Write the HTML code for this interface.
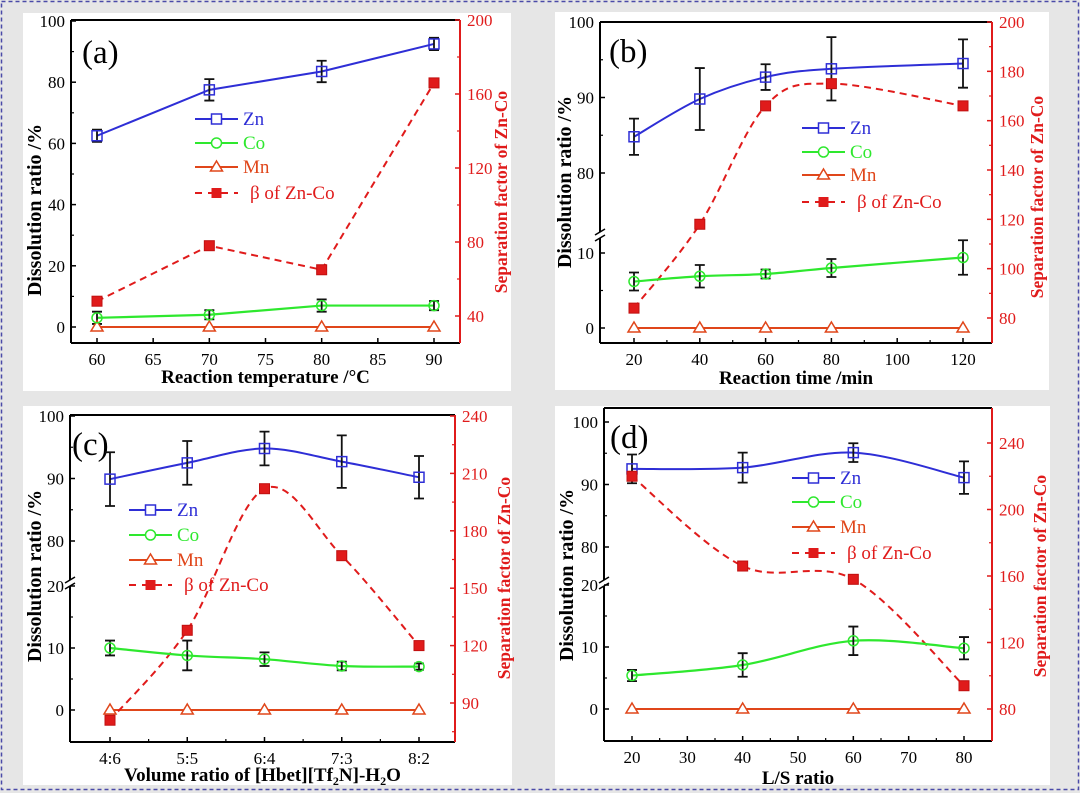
<!DOCTYPE html>
<html><head><meta charset="utf-8"><style>
html,body{margin:0;padding:0;background:#e6e6e6;}
svg{display:block;font-family:"Liberation Serif",serif;}
</style></head><body>
<svg id="fig" width="1080" height="793" viewBox="0 0 1080 793" xmlns="http://www.w3.org/2000/svg">
<rect x="1.5" y="1.5" width="1077" height="788" fill="none" stroke="#4a4aa8" stroke-width="1.5" stroke-dasharray="4,3"/>
<rect x="23" y="13" width="488" height="378" fill="#fff"/>
<rect x="555" y="12" width="494" height="378" fill="#fff"/>
<rect x="23" y="406" width="489" height="379" fill="#fff"/>
<rect x="555" y="406" width="495" height="379" fill="#fff"/>
</svg>
<script>
// Panel (a)
const aX=[60,70,80,90];
const aZn=[62.5,77.5,83.5,92.5];
const aZnErr=[2,3.5,3.5,2];
const aCo=[3,4,7,7];
const aCoErr=[2,1.5,2,1.5];
const aMn=[0,0,0,0];
const aBeta=[48,78,65,166];
const aXTicks=[60,65,70,75,80,85,90];
// Panel (b)
const bX=[20,40,60,80,120];
const bZn=[84.8,89.8,92.7,93.8,94.5];
const bZnErr=[2.4,4.1,1.7,4.2,3.2];
const bCo=[6.2,6.9,7.2,8.0,9.4];
const bCoErr=[1.2,1.5,0.6,1.2,2.3];
const bMn=[0,0,0,0,0];
const bBeta=[84,118,166,175,166];
const bXTicks=[20,40,60,80,100,120];
// Panel (c)
const cCats=['4:6','5:5','6:4','7:3','8:2'];
const cZn=[89.9,92.5,94.8,92.7,90.2];
const cZnErr=[4.3,3.5,2.7,4.2,3.4];
const cCo=[10,8.8,8.2,7.1,7.0];
const cCoErr=[1.2,2.4,1.1,0.7,0.5];
const cMn=[0,0,0,0,0];
const cBeta=[81,128,202,167,120];
// Panel (d)
const dX=[20,40,60,80];
const dZn=[92.5,92.7,95.1,91.1];
const dZnErr=[2.3,2.4,1.5,2.6];
const dCo=[5.4,7.1,11.0,9.8];
const dCoErr=[0.9,1.9,2.3,1.8];
const dMn=[0,0,0,0];
const dBeta=[220,166,158,94];
const dXTicks=[20,30,40,50,60,70,80];

const NS='http://www.w3.org/2000/svg';
const svg=document.getElementById('fig');
function mk(tag,attrs,parent){const e=document.createElementNS(NS,tag);for(const k in attrs)e.setAttribute(k,attrs[k]);(parent||svg).appendChild(e);return e;}
const BLUE='#2e2ed6',GREEN='#2ee82e',ORANGE='#e0461a',RED='#e01b1b';

function lin(v0,p0,v1,p1){return v=>p0+(v-v0)*(p1-p0)/(v1-v0);}
function smooth(pts){let d='M'+pts[0][0]+','+pts[0][1];for(let i=0;i<pts.length-1;i++){const p0=pts[i-1]||pts[i],p1=pts[i],p2=pts[i+1],p3=pts[i+2]||p2;const c1=[p1[0]+(p2[0]-p0[0])/6,p1[1]+(p2[1]-p0[1])/6],c2=[p2[0]-(p3[0]-p1[0])/6,p2[1]-(p3[1]-p1[1])/6];d+=' C'+c1+' '+c2+' '+p2;}return d;}
function poly(pts){return 'M'+pts.map(p=>p.join(',')).join(' L');}

function panel(P){
  const g=mk('g',{});
  
  
  const yL=v=>(P.brk!==undefined && v>P.brk)?P.yUp(v):P.yLo(v);
  const xs=P.xs.map(P.xf);
  const path=P.curve?smooth:poly;
  mk('line',{x1:P.L,y1:P.T,x2:P.R,y2:P.T,stroke:'#000','stroke-width':2},g);
  mk('line',{x1:P.L,y1:P.B,x2:P.R,y2:P.B,stroke:'#000','stroke-width':2},g);
  if(P.brkY){
    mk('line',{x1:P.L,y1:P.T,x2:P.L,y2:P.brkY-3,stroke:'#000','stroke-width':2},g);
    mk('line',{x1:P.L,y1:P.brkY+3,x2:P.L,y2:P.B,stroke:'#000','stroke-width':2},g);
    mk('line',{x1:P.L-5,y1:P.brkY,x2:P.L+5,y2:P.brkY-6,stroke:'#000','stroke-width':1.5},g);
    mk('line',{x1:P.L-5,y1:P.brkY+6,x2:P.L+5,y2:P.brkY,stroke:'#000','stroke-width':1.5},g);
  } else mk('line',{x1:P.L,y1:P.T,x2:P.L,y2:P.B,stroke:'#000','stroke-width':2},g);
  const ra=mk('line',{x1:P.R,y1:P.T,x2:P.R,y2:P.B,stroke:RED,'stroke-width':2},g);
  
  
  P.yMaj.forEach(v=>{const y=yL(v);mk('line',{x1:P.L,y1:y,x2:P.L+5,y2:y,stroke:'#000','stroke-width':1.5},g);
    const t=mk('text',{x:P.L-6,y:y+6,'text-anchor':'end','font-size':17},g);t.textContent=v;
    
    });
  P.yMin.forEach(v=>{const y=yL(v);mk('line',{x1:P.L,y1:y,x2:P.L+3,y2:y,stroke:'#000','stroke-width':1.2},g);});
  P.rMaj.forEach(v=>{const y=P.yR(v);mk('line',{x1:P.R,y1:y,x2:P.R-5,y2:y,stroke:RED,'stroke-width':1.5},g);
    const t=mk('text',{x:P.R+7,y:y+6,'font-size':17,fill:RED},g);t.textContent=v;
    
    });
  P.rMin.forEach(v=>{const y=P.yR(v);mk('line',{x1:P.R,y1:y,x2:P.R-3,y2:y,stroke:RED,'stroke-width':1.2},g);});
  P.xMaj.forEach((v,i)=>{const x=P.xf(v);mk('line',{x1:x,y1:P.B,x2:x,y2:P.B-5,stroke:'#000','stroke-width':1.5},g);
    const t=mk('text',{x:x,y:P.B+22,'text-anchor':'middle','font-size':17},g);t.textContent=P.xLab?P.xLab[i]:v;
    
    });
  P.xMin.forEach(v=>{const x=P.xf(v);mk('line',{x1:x,y1:P.B,x2:x,y2:P.B-3,stroke:'#000','stroke-width':1.2},g);});
  const xt=mk('text',{x:(P.L+P.R)/2,y:P.xtY,'text-anchor':'middle','font-size':19,'font-weight':'bold'},g);
  xt.innerHTML=P.xTitle;
  
  
  const lt=mk('text',{x:0,y:0,'text-anchor':'middle','font-size':20,'font-weight':'bold',transform:`translate(${P.ltX},${P.ltY}) rotate(-90)`},g);
  lt.textContent='Dissolution ratio /%';
  
  
  const rt=mk('text',{x:0,y:0,'text-anchor':'middle','font-size':17.5,'font-weight':'bold',fill:RED,transform:`translate(${P.rtX},${P.rtY}) rotate(-90)`},g);
  rt.textContent='Separation factor of Zn-Co';
  
  
  const pl=mk('text',{x:P.labX,y:P.labY,'font-size':33},g);pl.textContent=P.lab;
  
  
  const mn=mk('path',{d:path(P.mn.map((v,i)=>[xs[i],yL(v)])),fill:'none',stroke:ORANGE,'stroke-width':2},g);
  
  
  const be=mk('path',{d:path(P.beta.map((v,i)=>[xs[i],P.yR(v)])),fill:'none',stroke:RED,'stroke-width':2,'stroke-dasharray':'7,5'},g);
  
  
  const co=mk('path',{d:path(P.co.map((v,i)=>[xs[i],yL(v)])),fill:'none',stroke:GREEN,'stroke-width':2.2},g);
  
  
  const zn=mk('path',{d:path(P.zn.map((v,i)=>[xs[i],yL(v)])),fill:'none',stroke:BLUE,'stroke-width':2},g);
  
  
  function err(vals,errs,name){vals.forEach((v,i)=>{const x=xs[i],y1=yL(v+errs[i]),y2=yL(v-errs[i]);
    const e=mk('path',{d:`M${x-5},${y1} H${x+5} M${x},${y1} V${y2} M${x-5},${y2} H${x+5}`,stroke:'#111','stroke-width':1.8,fill:'none'},g);
    
    });}
  err(P.zn,P.znE,'zn-error-bar');err(P.co,P.coE,'co-error-bar');
  P.mn.forEach((v,i)=>{const x=xs[i],y=yL(v);const m=mk('path',{d:`M${x},${y-6} L${x+6},${y+4} L${x-6},${y+4} Z`,fill:'#fff',stroke:ORANGE,'stroke-width':1.5},g);
    
    });
  P.co.forEach((v,i)=>{const m=mk('circle',{cx:xs[i],cy:yL(v),r:5,fill:'none',stroke:GREEN,'stroke-width':1.5},g);
    
    });
  P.zn.forEach((v,i)=>{const m=mk('rect',{x:xs[i]-5,y:yL(v)-5,width:10,height:10,fill:'none',stroke:BLUE,'stroke-width':1.5},g);
    
    });
  P.beta.forEach((v,i)=>{const m=mk('rect',{x:xs[i]-5,y:P.yR(v)-5,width:10,height:10,fill:RED,stroke:'#c01010','stroke-width':1},g);
    
    });
  const lg=mk('g',{},g);
  
  
  const items=[['Zn',BLUE,'sq'],['Co',GREEN,'ci'],['Mn',ORANGE,'tr'],['β of Zn-Co',RED,'be']];
  items.forEach((it,k)=>{const y=P.legY[k],x0=P.legX,x1=P.legX+43,xm=(x0+x1)/2;
    const e=mk('g',{},lg);
    
    
    if(it[2]==='be')mk('line',{x1:x0,y1:y,x2:x1,y2:y,stroke:RED,'stroke-width':2,'stroke-dasharray':'7,6'},e);
    else mk('line',{x1:x0,y1:y,x2:x1,y2:y,stroke:it[1],'stroke-width':2},e);
    if(it[2]==='sq')mk('rect',{x:xm-5,y:y-5,width:10,height:10,fill:'#fff',stroke:BLUE,'stroke-width':1.5},e);
    if(it[2]==='ci')mk('circle',{cx:xm,cy:y,r:5,fill:'#fff',stroke:GREEN,'stroke-width':1.5},e);
    if(it[2]==='tr')mk('path',{d:`M${xm},${y-6} L${xm+6},${y+4} L${xm-6},${y+4} Z`,fill:'#fff',stroke:ORANGE,'stroke-width':1.5},e);
    if(it[2]==='be')mk('rect',{x:xm-5,y:y-5,width:10,height:10,fill:RED},e);
    const t=mk('text',{x:x1+(it[2]==='be'?12:5),y:y+6,'font-size':19,fill:it[1]},e);t.textContent=it[0];});
}

panel({id:'panel-a',L:71,R:460,T:20,B:343,xs:aX,xf:lin(60,97,90,434),
  yLo:lin(0,327,100,21),yR:lin(40,316,200,20),curve:false,
  yMaj:[0,20,40,60,80,100],yMin:[10,30,50,70,90],rMaj:[40,80,120,160,200],rMin:[60,100,140,180],
  xMaj:aXTicks,xMin:[],xTitle:'Reaction temperature /°C',xtY:383,ltX:41,ltY:210,rtX:507,rtY:192,
  lab:'(a)',labX:82,labY:63,zn:aZn,znE:aZnErr,co:aCo,coE:aCoErr,mn:aMn,beta:aBeta,
  legX:195,legY:[119,143,167,193]});
panel({id:'panel-b',L:600,R:992,T:22,B:343,xs:bX,xf:lin(20,634,120,963),
  brk:40,brkY:235,yLo:lin(0,328,10,253),yUp:lin(80,173,100,22),yR:lin(80,318,200,22),curve:true,
  yMaj:[0,10,80,90,100],yMin:[5,85,95],rMaj:[80,100,120,140,160,180,200],rMin:[90,110,130,150,170,190],
  xMaj:bXTicks,xMin:[30,50,70,90,110],xTitle:'Reaction time /min',xtY:384,ltX:571,ltY:182,rtX:1043,rtY:197,
  lab:'(b)',labX:609,labY:62,zn:bZn,znE:bZnErr,co:bCo,coE:bCoErr,mn:bMn,beta:bBeta,
  legX:802,legY:[128,152,175,202]});
panel({id:'panel-c',L:70,R:455,T:415,B:742,xs:[0,1,2,3,4],xf:lin(0,110,4,419),
  brk:40,brkY:583,yLo:lin(0,710,10,648),yUp:lin(80,541,100,416),yR:lin(90,703,240,416),curve:true,
  yMaj:[0,10,20,80,90,100],yMin:[5,15,85,95],rMaj:[90,120,150,180,210,240],rMin:[75,105,135,165,195,225],
  xMaj:[0,1,2,3,4],xLab:cCats,xMin:[0.5,1.5,2.5,3.5],xTitle:'Volume ratio of [Hbet][Tf<tspan font-size="12" dy="4">2</tspan><tspan dy="-4">N]-H</tspan><tspan font-size="12" dy="4">2</tspan><tspan dy="-4">O</tspan>',
  xtY:781,ltX:41,ltY:576,rtX:510,rtY:578,
  lab:'(c)',labX:72,labY:455,zn:cZn,znE:cZnErr,co:cCo,coE:cCoErr,mn:cMn,beta:cBeta,
  legX:129,legY:[510,535,560,585]});
panel({id:'panel-d',L:604,R:992,T:408,B:741,xs:dX,xf:lin(20,632,80,964),
  brk:40,brkY:583,yLo:lin(0,709,10,647),yUp:lin(80,547,100,422),yR:lin(80,709,240,443),curve:true,
  yMaj:[0,10,20,80,90,100],yMin:[5,15,85,95],rMaj:[80,120,160,200,240],rMin:[100,140,180,220],
  xMaj:dXTicks,xMin:[25,35,45,55,65,75],xTitle:'L/S ratio',xtY:784,ltX:573,ltY:575,rtX:1046,rtY:576,
  lab:'(d)',labX:610,labY:448,zn:dZn,znE:dZnErr,co:dCo,coE:dCoErr,mn:dMn,beta:dBeta,
  legX:792,legY:[478,502,527,553]});
</script>
</body></html>
